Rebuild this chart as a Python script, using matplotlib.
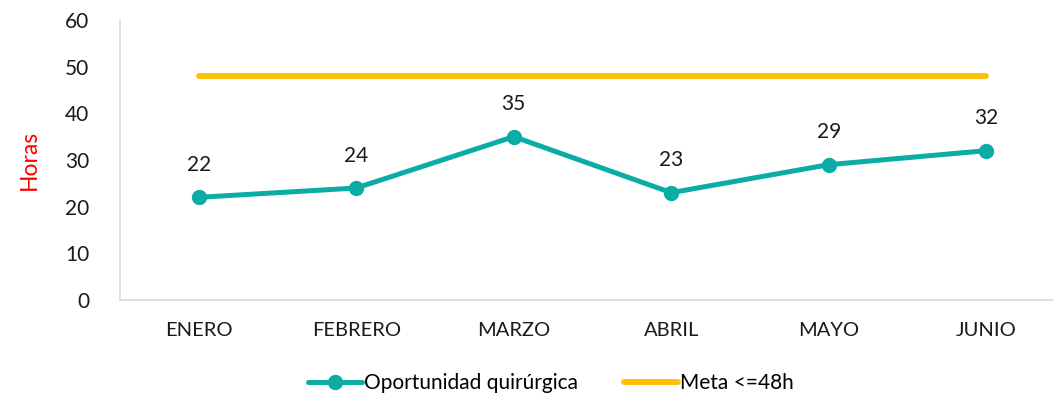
import matplotlib
matplotlib.use("Agg")
import matplotlib.pyplot as plt

meses = ["ENERO", "FEBRERO", "MARZO", "ABRIL", "MAYO", "JUNIO"]
oportunidad = [22, 24, 35, 23, 29, 32]
meta = [48, 48, 48, 48, 48, 48]

teal = "#0BABA6"
gold = "#FFC000"

plt.rcParams["font.family"] = ["Lato", "DejaVu Sans"]

fig = plt.figure(figsize=(10.53, 4.0), dpi=100)
ax = fig.add_axes([0.114, 0.25, 0.886, 0.70])

x = list(range(len(meses)))
ax.plot(x, oportunidad, color=teal, lw=3.6, marker="o", markersize=10,
        solid_capstyle="round", label="Oportunidad quirúrgica")
ax.plot(x, meta, color=gold, lw=4.2, solid_capstyle="round", label="Meta <=48h")

for xi, v in zip(x, oportunidad):
    ax.annotate(str(v), (xi, v), xytext=(0, 16), textcoords="offset points",
                ha="center", va="bottom", fontsize=15, color="#1a1a1a")

ax.set_xlim(-0.5, 5.424)
ax.set_ylim(0, 60)
ax.set_yticks(range(0, 61, 10))
ax.set_xticks(x)
ax.set_xticklabels(meses)
ax.tick_params(axis="x", length=0, labelsize=14.5, colors="#1a1a1a", pad=16)
ax.tick_params(axis="y", length=0, labelsize=15, colors="#1a1a1a", pad=22)

for s in ["top", "right"]:
    ax.spines[s].set_visible(False)
for s in ["left", "bottom"]:
    ax.spines[s].set_color("#D9D9D9")
    ax.spines[s].set_linewidth(1.2)

ax.set_ylabel("Horas", color="red", fontsize=16.5, labelpad=18)

fig.legend(loc="center", bbox_to_anchor=(0.523, 0.042), ncol=2, frameon=False,
           fontsize=15, handlelength=2.6, handletextpad=0.1, columnspacing=2.2)

fig.savefig("out.png", dpi=100)
